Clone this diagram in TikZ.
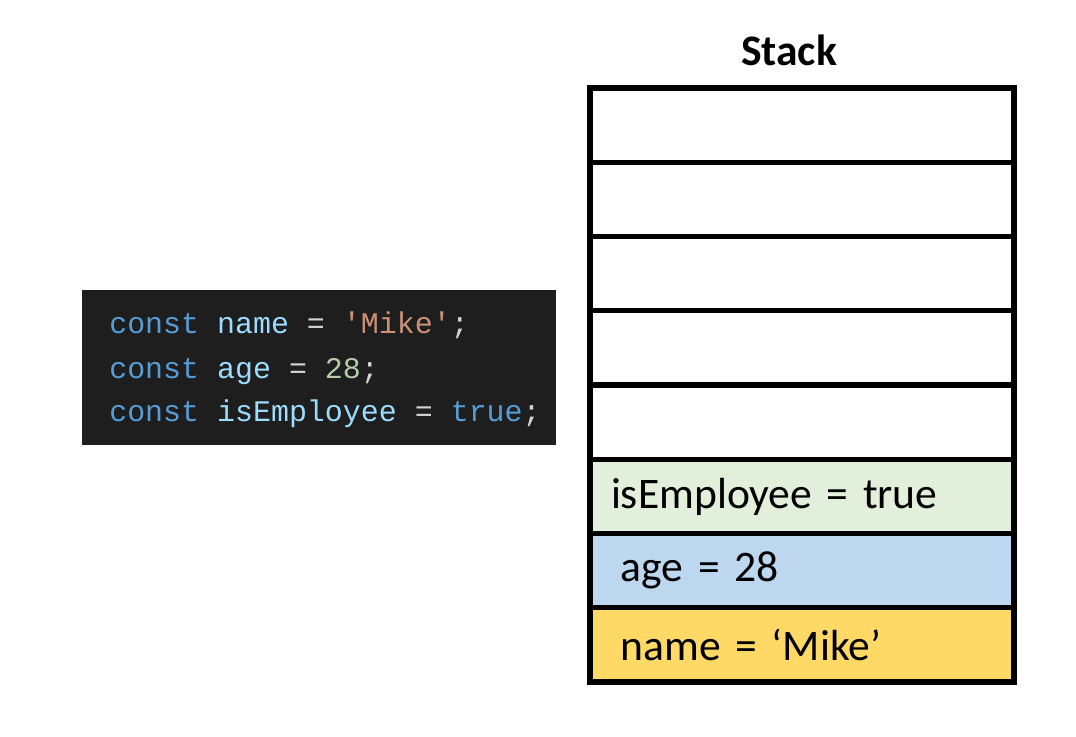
\documentclass[tikz,border=0pt]{standalone}
\usepackage{fontspec}
\setmainfont{Carlito}
\newfontfamily\codefont{Liberation Mono}
\usepackage{xcolor}
\usetikzlibrary{positioning}

\definecolor{codebg}{HTML}{1E1E1E}
\definecolor{kwblue}{HTML}{569CD6}
\definecolor{varblue}{HTML}{9CDCFE}
\definecolor{opgrey}{HTML}{D4D4D4}
\definecolor{strorange}{HTML}{CE9178}
\definecolor{numgreen}{HTML}{B5CEA8}
\definecolor{greencell}{HTML}{E2EFDA}
\definecolor{bluecell}{HTML}{BDD7EE}
\definecolor{yellowcell}{HTML}{FFD966}

\begin{document}
\begin{tikzpicture}[
        x=0.025cm, y=-0.025cm,
        cell/.style = {
            draw=black,
            line width=3.8pt,
            rectangle,
            outer sep=0pt,
            minimum width=10.6cm,
            minimum height=1.856cm,
            inner xsep=0.525cm,
            text width=9.55cm,
            align=left,
            font=\fontsize{31}{37}\selectfont
        },
        codeline/.style = {
            anchor=base west,
            inner sep=0pt,
            font=\codefont\fontsize{21.3}{26}\selectfont
        },
        node distance=0pt
    ]
        \useasboundingbox (0,0) rectangle (1076,736);

        % code panel
        \node [fill=codebg, minimum width=11.85cm, minimum height=3.875cm, inner sep=0pt] (codebox) at (319,367.5) {};
        \node [codeline] (line1) at (109,333) {\color{kwblue}const \color{varblue}name \color{opgrey}= \color{strorange}'Mike'\color{opgrey};};
        \node [codeline] (line2) at (109,378) {\color{kwblue}const \color{varblue}age \color{opgrey}= \color{numgreen}28\color{opgrey};};
        \node [codeline] (line3) at (109,421) {\color{kwblue}const \color{varblue}isEmployee \color{opgrey}= \color{kwblue}true\color{opgrey};};

        % stack
        \node [anchor=base, font=\bfseries\fontsize{31}{37}\selectfont] (title) at (789,66) {Stack};
        \node [cell, anchor=north west] (c1) at (590,88) {};
        \node [cell, below=of c1] (c2) {};
        \node [cell, below=of c2] (c3) {};
        \node [cell, below=of c3] (c4) {};
        \node [cell, below=of c4] (c5) {};
        \node [cell, below=of c5, fill=greencell] (isemp) {isEmployee = true};
        \node [cell, below=of isemp, fill=bluecell] (age) {\hspace{7pt}age = 28};
        \node [cell, below=of age, fill=yellowcell] (name) {\hspace{7pt}name = ‘Mike’};
    \end{tikzpicture}
\end{document}
